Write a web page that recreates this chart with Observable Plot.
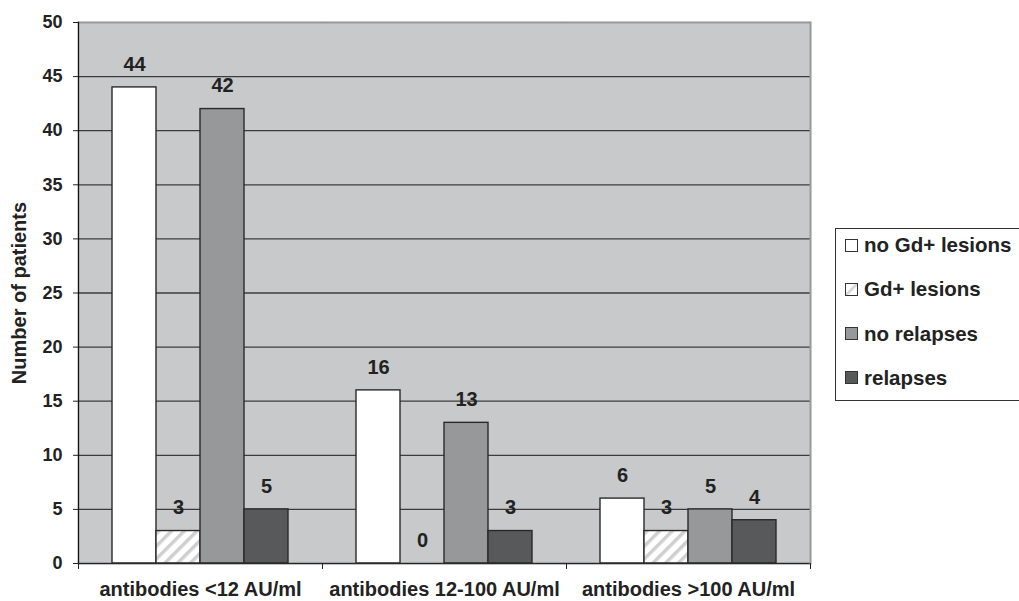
<!DOCTYPE html>
<html>
<head>
<meta charset="utf-8">
<script src="https://cdn.jsdelivr.net/npm/d3@7"></script>
<script src="https://cdn.jsdelivr.net/npm/@observablehq/plot@0.6"></script>
<style>
  html, body { margin: 0; padding: 0; background: #fff; }
  #wrap { position: relative; width: 1019px; height: 601px; overflow: hidden; font-family: "Liberation Sans", Arial, sans-serif; }
  #legend { position: absolute; left: 835px; top: 228px; width: 200px; height: 173px; border: 1px solid #333; box-sizing: border-box; background: #fff; }
  .item { position: absolute; left: 9px; height: 24px; display: flex; align-items: center; font-weight: bold; font-size: 20.5px; color: #222; white-space: nowrap; }
  .sw { width: 11px; height: 11px; border: 1px solid #333; margin-right: 6px; flex: none; }
</style>
</head>
<body>
<div id="wrap"></div>
<script>
// Antibody titre groups and the four patient outcomes counted in each
const categories = ["antibodies <12 AU/ml", "antibodies 12-100 AU/ml", "antibodies >100 AU/ml"];
const series = ["no Gd+ lesions", "Gd+ lesions", "no relapses", "relapses"];
const noGdLesions = [44, 16, 6];
const gdLesions = [3, 0, 3];
const noRelapses = [42, 13, 5];
const relapses = [5, 3, 4];
const yTicks = [0, 5, 10, 15, 20, 25, 30, 35, 40, 45, 50];
const fills = ["#ffffff", "url(#hatch)", "#97989a", "#58595b"];

const seriesValues = [noGdLesions, gdLesions, noRelapses, relapses];
const rows = categories.flatMap((category, i) =>
  series.map((s, j) => ({category, series: s, value: seriesValues[j][i]}))
);

const marginTop = 22, marginBottom = 38, height = 601;
const plotHeight = height - marginTop - marginBottom;
const font = "Liberation Sans, Arial, sans-serif";
const plotBg = "#c8c9cb";

const chart = Plot.plot({
  width: 1019,
  height,
  marginTop,
  marginBottom,
  marginLeft: 78,
  marginRight: 209,
  style: {fontFamily: font, fontWeight: "bold", color: "#222", background: "transparent"},
  fx: {domain: categories, padding: 0, label: null},
  x: {domain: series, paddingInner: 0, paddingOuter: 0.726, axis: null},
  y: {domain: [0, 50], axis: null},
  color: {domain: series, range: fills},
  marks: [
    // grey plot area; the same-colour stroke closes the seams between groups
    Plot.frame({fill: plotBg, stroke: plotBg, strokeWidth: 1.5}),
    Plot.ruleY(yTicks.filter(t => t > 0 && t < 50), {stroke: "#3c3c3c", strokeWidth: 1.3}),
    Plot.ruleY([50], {stroke: "#9a9a9a", strokeWidth: 2}),
    Plot.barY(rows, {fx: "category", x: "series", y: "value", fill: "series", stroke: "#2a2a2a", strokeWidth: 1.4}),
    Plot.ruleY([0], {stroke: "#2a2a2a", strokeWidth: 1.6}),
    Plot.text(rows, {fx: "category", x: "series", y: "value", text: d => String(d.value), dy: -23, fontSize: 20, fontWeight: "bold", fill: "#222"}),
    // axis line on the left, light border on the right of the whole plot area
    Plot.frame({anchor: "left", stroke: "#111", strokeWidth: 1.3, facetAnchor: "left"}),
    Plot.frame({anchor: "right", stroke: "#9a9a9a", strokeWidth: 2, facet: "super"}),
    // short ticks marking the group boundaries under the axis
    Plot.frame({anchor: "left", stroke: "#222", insetTop: plotHeight, insetBottom: -5}),
    Plot.frame({anchor: "right", stroke: "#222", insetTop: plotHeight, insetBottom: -5}),
    Plot.axisY({ticks: yTicks, tickSize: 5, tickPadding: 11, stroke: "#222", fontSize: 18, fontWeight: "bold", label: "Number of patients", labelAnchor: "center", labelArrow: "none", labelOffset: 67}),
    Plot.axisFx({anchor: "bottom", tickSize: 0, tickPadding: 18, fontSize: 20, fontWeight: "bold", label: null})
  ]
});

// hatch fill for the Gd+ lesions bars
d3.select(chart).insert("defs", ":first-child").html(
  '<pattern id="hatch" patternUnits="userSpaceOnUse" width="9" height="9" patternTransform="rotate(45)">' +
  '<rect width="9" height="9" fill="#ffffff"></rect><rect width="3.5" height="9" fill="#cfcfcf"></rect></pattern>'
);
d3.select(chart).selectAll("[aria-label='y-axis label'] text, [aria-label='y-axis label']").attr("font-size", 20);

const wrap = document.getElementById("wrap");
wrap.appendChild(chart);

const legend = document.createElement("div");
legend.id = "legend";
const swatches = [
  "background:#fff",
  "background:linear-gradient(135deg,#fff 0%,#fff 35%,#cfcfcf 50%,#fff 65%,#fff 100%)",
  "background:#97989a",
  "background:#58595b"
];
series.forEach((s, i) => {
  const item = document.createElement("div");
  item.className = "item";
  item.style.top = (4 + i * 44.3) + "px";
  item.innerHTML = `<span class="sw" style="${swatches[i]}"></span><span>${s}</span>`;
  legend.appendChild(item);
});
wrap.appendChild(legend);
</script>
</body>
</html>
